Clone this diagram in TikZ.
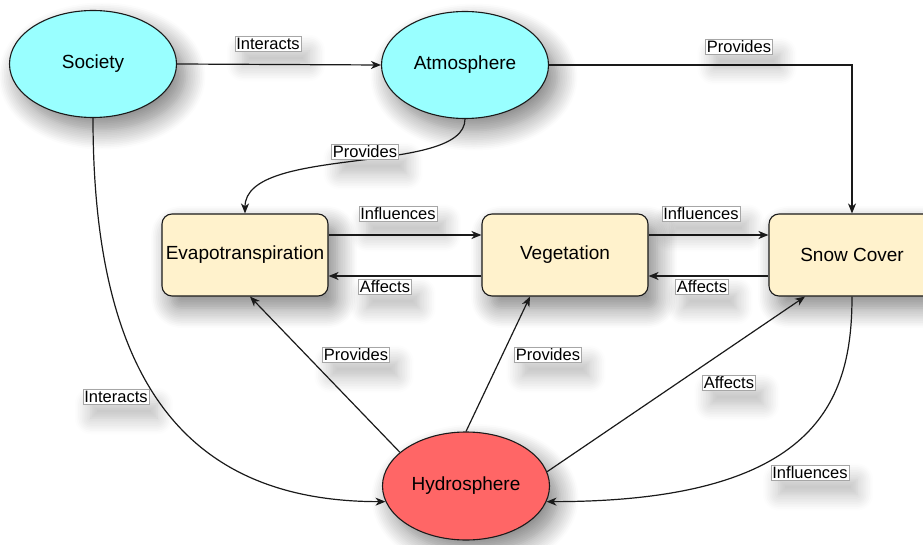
\documentclass[tikz,border=0pt]{standalone}
\usepackage{fontspec}
\setmainfont{Liberation Sans}
\usetikzlibrary{shapes.geometric,arrows.meta,shadows.blur}
\definecolor{skyfill}{HTML}{99FFFF}
\definecolor{boxfill}{HTML}{FFF2CC}
\definecolor{hydfill}{HTML}{FF6666}
\definecolor{edgecol}{HTML}{1A1A1A}
\tikzset{
  nodeshadow/.style={blur shadow={shadow xshift=9pt,shadow yshift=-12pt,shadow blur radius=20pt,shadow blur steps=12,shadow opacity=50}},
  labelshadow/.style={blur shadow={shadow xshift=8pt,shadow yshift=-14pt,shadow blur radius=16pt,shadow blur steps=10,shadow opacity=28}},
  oval/.style={ellipse,draw=edgecol,line width=1.1pt,minimum width=167pt,minimum height=107pt,inner sep=0pt,
    font=\fontsize{19}{22}\selectfont,nodeshadow},
  roundbox/.style={rectangle,rounded corners=10pt,draw=edgecol,line width=1.1pt,fill=boxfill,
    minimum width=166pt,minimum height=82pt,inner sep=0pt,font=\fontsize{19}{22}\selectfont,nodeshadow},
  elabel/.style={fill=white,draw=black!35,line width=0.5pt,inner sep=1.5pt,
    font=\fontsize{16.5}{18}\selectfont,labelshadow},
  conn/.style={draw=edgecol,line width=1.2pt,-{Stealth[length=10pt,width=8pt,inset=3pt]}}
}
\begin{document}
\begin{tikzpicture}[x=1pt,y=-1pt]
\useasboundingbox (0,0) rectangle (923,545);
% nodes
\node[oval,fill=skyfill] (soc) at (93,64) {Society};
\node[oval,fill=skyfill] (atm) at (465,65) {Atmosphere};
\node[roundbox] (evap) at (245,255) {Evapotranspiration};
\node[roundbox] (veg) at (565,255) {Vegetation};
\node[roundbox] (snow) at (852,255) {Snow Cover};
\node[oval,fill=hydfill,minimum height=108pt] (hyd) at (466,486) {Hydrosphere};
% connectors
\draw[conn] (soc.east) -- (atm.west);
\draw[conn] (atm.east) -| (snow.north);
\draw[conn] (atm.south) .. controls +(0,57) and +(0,-69) .. (evap.north);
\draw[conn] ([yshift=20pt]evap.east) -- ([yshift=20pt]veg.west);
\draw[conn] ([yshift=-21pt]veg.west) -- ([yshift=-21pt]evap.east);
\draw[conn] ([yshift=20pt]veg.east) -- ([yshift=20pt]snow.west);
\draw[conn] ([yshift=-21pt]snow.west) -- ([yshift=-21pt]veg.east);
\draw[conn] (hyd.153) -- ([xshift=5pt]evap.south);
\draw[conn] (hyd.north) -- ([xshift=-35pt]veg.south);
\draw[conn] (hyd.10) -- ([xshift=-47pt]snow.south);
\draw[conn] (snow.south) .. controls +(0,104) and +(271,0) .. (hyd.-11);
\draw[conn] (soc.south) .. controls +(0,262) and +(-200,0) .. (hyd.-169);
% labels
\node[elabel] (l1) at (268,44) {Interacts};
\node[elabel] (l2) at (739,47) {Provides};
\node[elabel] (l3) at (365,152) {Provides};
\node[elabel] (l4) at (398,214) {Influences};
\node[elabel] (l5) at (385,287) {Affects};
\node[elabel] (l6) at (701,214) {Influences};
\node[elabel] (l7) at (702,287) {Affects};
\node[elabel] (l8) at (356,355) {Provides};
\node[elabel] (l9) at (548,355) {Provides};
\node[elabel] (l10) at (729,383) {Affects};
\node[elabel] (l11) at (810,473) {Influences};
\node[elabel] (l12) at (116,397) {Interacts};
\end{tikzpicture}
\end{document}
